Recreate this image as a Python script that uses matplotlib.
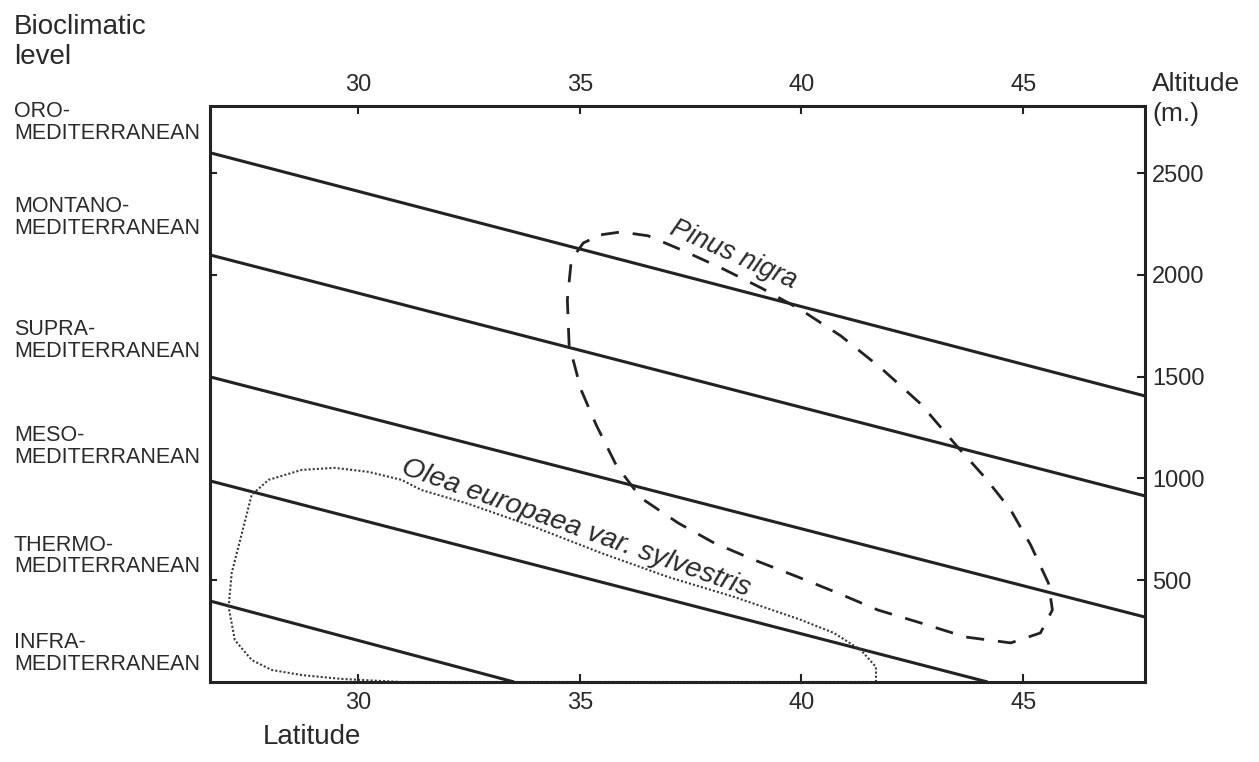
import matplotlib
matplotlib.use("Agg")
import matplotlib.pyplot as plt
import matplotlib.transforms as mtransforms

plt.rcParams['font.family'] = ['Liberation Sans', 'DejaVu Sans']

# limites entre pisos bioclimaticos (latitud, altitud)
limite_lat = [
    [26.66, 47.75],
    [26.66, 47.75],
    [26.66, 47.75],
    [26.66, 44.2],
    [26.66, 33.52],
]
limite_alt = [
    [2600, 1405],
    [2098, 914],
    [1499, 319],
    [988, 0],
    [398, 0],
]

# contorno Pinus nigra
pinus_lat = [35.48, 35.93, 36.54, 37.29, 38.19, 39.09, 39.99, 40.89, 41.79, 42.69,
             43.52, 44.15, 44.72, 45.17, 45.57, 45.66, 45.39, 44.72, 43.70, 42.69,
             41.72, 40.82, 39.92, 38.93, 38.03, 37.22, 36.38, 35.82, 35.37, 35.03,
             34.76, 34.72, 34.81, 35.08, 35.48]
pinus_alt = [2197, 2211, 2192, 2123, 2034, 1936, 1828, 1700, 1543, 1366,
             1155, 1002, 845, 673, 486, 354, 241, 192, 221, 290,
             354, 437, 516, 600, 683, 781, 904, 1066, 1263, 1435,
             1656, 1877, 2074, 2157, 2197]

# contorno Olea europaea var. sylvestris
olea_lat = [41.68, 41.68, 41.34, 40.73, 39.99, 38.48, 36.99, 35.48, 33.97, 32.49,
            31.43, 30.98, 30.24, 29.47, 28.73, 27.98, 27.60, 27.38, 27.15, 27.08,
            27.22, 27.60, 28.05, 28.73, 29.63, 30.98, 41.68]
olea_alt = [0, 74, 157, 241, 305, 418, 516, 634, 762, 875,
            943, 993, 1032, 1052, 1042, 993, 919, 732, 536, 369,
            206, 108, 59, 34, 15, 0, 0]

pisos = ['ORO-\nMEDITERRANEAN', 'MONTANO-\nMEDITERRANEAN', 'SUPRA-\nMEDITERRANEAN',
         'MESO-\nMEDITERRANEAN', 'THERMO-\nMEDITERRANEAN', 'INFRA-\nMEDITERRANEAN']
pisos_alt = [2747, 2280, 1676, 1155, 619, 138]

lat_ticks = [30, 35, 40, 45]
alt_ticks = [500, 1000, 1500, 2000, 2500]
alt_ticks_izq = [500, 2000, 2500]

negro = '#222222'
texto = '#2a2a2a'

fig = plt.figure(figsize=(12.59, 7.62), dpi=100)
ax = fig.add_axes([0.1668, 0.105, 0.7427, 0.756])

for lx, ly in zip(limite_lat, limite_alt):
    ax.plot(lx, ly, color=negro, lw=2.2, solid_capstyle='butt')

ax.plot(pinus_lat, pinus_alt, color=negro, lw=2.0, dashes=(6.5, 5))
ax.plot(olea_lat, olea_alt, color='#3a3a3a', lw=1.5, dashes=(1, 1))

ax.text(38.46, 2098, 'Pinus nigra', style='italic', fontsize=19.5, color=texto,
        rotation=-24, rotation_mode='anchor', ha='center', va='center')
ax.text(34.85, 725, 'Olea europaea var. sylvestris', style='italic', fontsize=20.5,
        color=texto, rotation=-19.5, rotation_mode='anchor', ha='center', va='baseline')

ax.set_xlim(26.66, 47.75)
ax.set_ylim(0, 2830)

ax.set_xticks(lat_ticks)
ax.set_yticks(alt_ticks)
ax.tick_params(axis='x', direction='in', top=True, bottom=True, labeltop=True,
               labelbottom=True, length=6, width=1.5, pad=7, labelsize=17,
               labelcolor=texto, color=negro)
ax.tick_params(axis='y', direction='in', left=False, right=True, labelleft=False,
               labelright=True, length=6, width=1.5, pad=5, labelsize=17,
               labelcolor=texto, color=negro)

izq = ax.secondary_yaxis('left')
izq.set_yticks(alt_ticks_izq)
izq.tick_params(direction='in', length=5, width=1.5, labelleft=False, color=negro)
izq.spines['left'].set_visible(False)

for s in ax.spines.values():
    s.set_linewidth(2.2)
    s.set_color(negro)

trans = mtransforms.blended_transform_factory(fig.transFigure, ax.transData)
for nombre, y in zip(pisos, pisos_alt):
    fig.text(0.0111, y, nombre, transform=trans, fontsize=15.5, color=texto,
             ha='left', va='center', linespacing=1.05)

fig.text(0.0111, 0.945, 'Bioclimatic\nlevel', fontsize=20, color=texto,
         ha='left', va='center', linespacing=1.2)
fig.text(0.915, 0.870, 'Altitude\n(m.)', fontsize=19, color=texto,
         ha='left', va='center', linespacing=1.35)
fig.text(0.248, 0.033, 'Latitude', fontsize=20, color=texto,
         ha='center', va='center')

fig.savefig('out.png', dpi=100)
